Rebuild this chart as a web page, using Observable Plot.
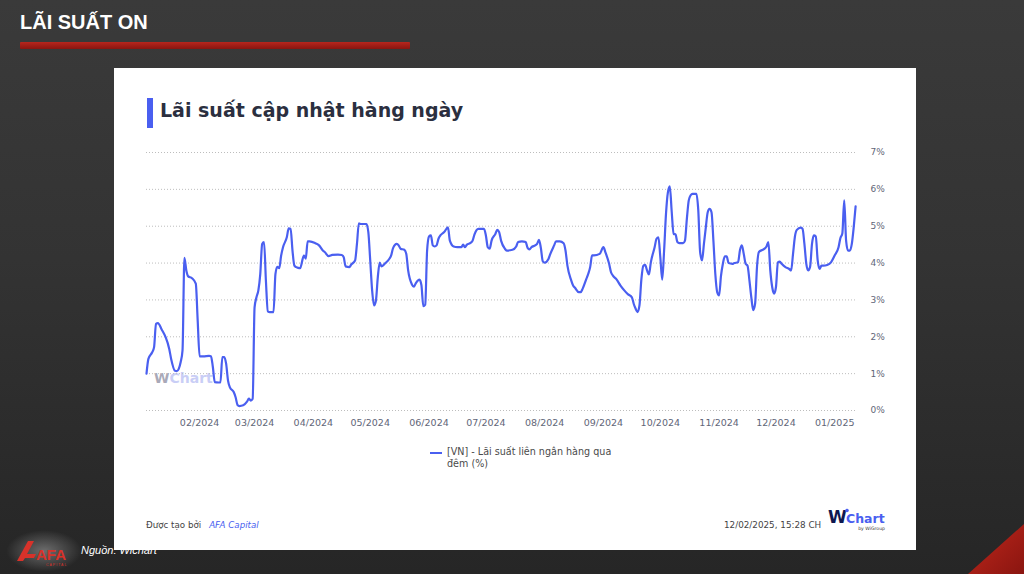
<!DOCTYPE html>
<html><head><meta charset="utf-8">
<script src="https://cdn.jsdelivr.net/npm/d3@7"></script>
<script src="https://cdn.jsdelivr.net/npm/@observablehq/plot@0.6"></script>
<style>
html,body{margin:0;padding:0;width:1024px;height:574px;overflow:hidden;}
body{position:relative;background:linear-gradient(180deg,#3a3a3a 0%,#333 45%,#262626 100%);font-family:"DejaVu Sans",sans-serif;}
#title{position:absolute;left:20px;top:12px;font:bold 20px/20px "Liberation Sans",sans-serif;color:#fff;}
#redbar{position:absolute;left:20px;top:42px;width:390px;height:7px;background:linear-gradient(180deg,#b8261d,#8a1510);border-radius:1px;}
#src{position:absolute;left:81px;top:543px;font:italic 11px/14px "Liberation Sans",sans-serif;color:#fff;z-index:1;}
#afa{position:absolute;left:6px;top:530px;width:76px;height:42px;background:radial-gradient(ellipse at center,rgba(255,255,255,0.32),rgba(255,255,255,0) 70%);z-index:1;}
#card{position:absolute;left:114px;top:68px;width:802px;height:482px;background:#fff;z-index:2;}
#accent{position:absolute;left:33px;top:30px;width:6px;height:30px;background:#4a5ff0;}
#ctitle{position:absolute;left:46px;top:33px;font:bold 19px/19px "DejaVu Sans",sans-serif;color:#2b2f3f;white-space:nowrap;}
#wm{position:absolute;left:40px;top:302px;font:bold 14px/16px "DejaVu Sans",sans-serif;white-space:nowrap;}
#chart{position:absolute;left:0;top:72px;}
#legend{position:absolute;left:316px;top:378px;font:9.6px/12px "DejaVu Sans",sans-serif;color:#4a4a4a;}
#legend .sw{position:absolute;left:0;top:6px;width:12px;height:2px;background:#4a5ff0;}
#legend .tx{position:absolute;left:17px;top:0;white-space:nowrap;}
#created{position:absolute;left:32px;top:452px;font:8.7px/11px "DejaVu Sans",sans-serif;color:#444;white-space:nowrap;}
#created span{font-style:italic;color:#4a5ff0;margin-left:8px;}
#stamp{position:absolute;left:610px;top:452px;font:8.8px/11px "DejaVu Sans",sans-serif;color:#444;white-space:nowrap;}
#wlogo{position:absolute;left:714px;top:440px;width:80px;height:28px;}
#tri{position:absolute;left:968px;top:524px;width:56px;height:50px;background:linear-gradient(135deg,#c0281c,#8a1510);clip-path:polygon(100% 0,100% 100%,0 100%);}
</style></head>
<body>
<div id="title">LÃI SUẤT ON</div>
<div id="redbar"></div>
<div id="afa">
<svg width="76" height="42" viewBox="0 0 76 42">
<polygon points="11,31 22,11 28,11 21,24 30,24 28,28 19,28 17,31" fill="#d8322a"/>
<text x="30" y="30" font-family="Liberation Sans" font-weight="bold" font-size="15" fill="#d8322a">AFA</text>
<text x="40" y="36" font-family="Liberation Sans" font-size="3.5" fill="#d8322a" letter-spacing="1">CAPITAL</text>
</svg>
</div>
<div id="src">Nguồn: Wichart</div>
<div id="card">
  <div id="accent"></div>
  <div id="ctitle">Lãi suất cập nhật hàng ngày</div>
  <div id="wm"><span style="color:#a9a9b8">W</span><span style="color:#c9cef6">Chart</span></div>
  <div id="chart"></div>
  <div id="legend"><div class="sw"></div><div class="tx">[VN] - Lãi suất liên ngân hàng qua<br>đêm (%)</div></div>
  <div id="created">Được tạo bởi<span>AFA Capital</span></div>
  <div id="stamp">12/02/2025, 15:28 CH</div>
  <div id="wlogo">
    <svg width="80" height="28" viewBox="0 0 80 28">
      <text x="0" y="15" font-family="DejaVu Sans" font-weight="bold" font-size="17" fill="#0f1850">W</text>
      <circle cx="19" cy="2.5" r="1.8" fill="#4a5ff0"/>
      <text x="18" y="15" font-family="DejaVu Sans" font-weight="bold" font-size="12.5" fill="#4a5ff0">Chart</text>
      <text x="57" y="22" text-anchor="end" font-family="DejaVu Sans" font-size="4.6" fill="#333">by WiGroup</text>
    </svg>
  </div>
</div>
<div id="tri"></div>
<script>
const dates = [
"2024-01-04","2024-01-05","2024-01-07","2024-01-08","2024-01-09","2024-01-10","2024-01-12","2024-01-14","2024-01-16","2024-01-17",
"2024-01-19","2024-01-20","2024-01-21","2024-01-22","2024-01-23","2024-01-24","2024-01-25","2024-01-26","2024-01-28","2024-01-30",
"2024-01-31","2024-02-01","2024-02-03","2024-02-06","2024-02-07","2024-02-08","2024-02-09","2024-02-11","2024-02-12","2024-02-13",
"2024-02-14","2024-02-15","2024-02-16","2024-02-17","2024-02-19","2024-02-20","2024-02-21","2024-02-22","2024-02-24","2024-02-26",
"2024-02-27","2024-02-28","2024-02-29","2024-03-01","2024-03-02","2024-03-03","2024-03-04","2024-03-05","2024-03-06","2024-03-07",
"2024-03-08","2024-03-09","2024-03-11","2024-03-12","2024-03-13","2024-03-14","2024-03-15","2024-03-16","2024-03-18","2024-03-19",
"2024-03-20","2024-03-21","2024-03-22","2024-03-23","2024-03-24","2024-03-25","2024-03-27","2024-03-28","2024-03-29","2024-03-30",
"2024-04-02","2024-04-04","2024-04-06","2024-04-07","2024-04-09","2024-04-11","2024-04-14","2024-04-16","2024-04-17","2024-04-18",
"2024-04-20","2024-04-21","2024-04-23","2024-04-24","2024-04-25","2024-04-26","2024-04-29","2024-04-30","2024-05-01","2024-05-02",
"2024-05-03","2024-05-04","2024-05-05","2024-05-06","2024-05-07","2024-05-09","2024-05-11","2024-05-12","2024-05-13","2024-05-15",
"2024-05-16","2024-05-17","2024-05-19","2024-05-20","2024-05-21","2024-05-23","2024-05-24","2024-05-25","2024-05-27","2024-05-28",
"2024-05-29","2024-05-30","2024-05-31","2024-06-01","2024-06-02","2024-06-03","2024-06-04","2024-06-05","2024-06-06","2024-06-07",
"2024-06-09","2024-06-11","2024-06-12","2024-06-14","2024-06-16","2024-06-18","2024-06-19","2024-06-20","2024-06-21","2024-06-23",
"2024-06-24","2024-06-25","2024-06-27","2024-06-30","2024-07-01","2024-07-02","2024-07-03","2024-07-04","2024-07-06","2024-07-07",
"2024-07-08","2024-07-09","2024-07-11","2024-07-12","2024-07-15","2024-07-17","2024-07-18","2024-07-20","2024-07-22","2024-07-23",
"2024-07-24","2024-07-25","2024-07-27","2024-07-28","2024-07-29","2024-07-30","2024-07-31","2024-08-01","2024-08-03","2024-08-04",
"2024-08-06","2024-08-07","2024-08-09","2024-08-11","2024-08-12","2024-08-13","2024-08-15","2024-08-16","2024-08-17","2024-08-19",
"2024-08-20","2024-08-21","2024-08-23","2024-08-24","2024-08-25","2024-08-26","2024-08-27","2024-08-30","2024-09-01","2024-09-02",
"2024-09-04","2024-09-05","2024-09-06","2024-09-08","2024-09-10","2024-09-12","2024-09-14","2024-09-16","2024-09-17","2024-09-18",
"2024-09-19","2024-09-20","2024-09-21","2024-09-22","2024-09-23","2024-09-24","2024-09-25","2024-09-26","2024-09-28","2024-09-29",
"2024-09-30","2024-10-01","2024-10-02","2024-10-03","2024-10-04","2024-10-05","2024-10-06","2024-10-07","2024-10-08","2024-10-09",
"2024-10-10","2024-10-11","2024-10-13","2024-10-14","2024-10-15","2024-10-16","2024-10-17","2024-10-18","2024-10-20","2024-10-21",
"2024-10-22","2024-10-23","2024-10-24","2024-10-25","2024-10-26","2024-10-27","2024-10-28","2024-10-29","2024-10-30","2024-10-31",
"2024-11-01","2024-11-02","2024-11-03","2024-11-04","2024-11-05","2024-11-06","2024-11-08","2024-11-09","2024-11-11","2024-11-12",
"2024-11-13","2024-11-14","2024-11-15","2024-11-16","2024-11-17","2024-11-18","2024-11-19","2024-11-20","2024-11-21","2024-11-22",
"2024-11-24","2024-11-25","2024-11-26","2024-11-27","2024-11-28","2024-11-29","2024-11-30","2024-12-01","2024-12-02","2024-12-03",
"2024-12-04","2024-12-06","2024-12-08","2024-12-09","2024-12-10","2024-12-11","2024-12-12","2024-12-14","2024-12-15","2024-12-16",
"2024-12-17","2024-12-18","2024-12-19","2024-12-20","2024-12-21","2024-12-22","2024-12-23","2024-12-24","2024-12-25","2024-12-26",
"2024-12-28","2024-12-30","2025-01-01","2025-01-03","2025-01-04","2025-01-05","2025-01-06","2025-01-07","2025-01-08","2025-01-09",
"2025-01-10","2025-01-11","2025-01-12"
];
const rates = [
1.00,1.40,1.58,1.72,2.35,2.37,2.20,2.00,1.67,1.40,
1.08,1.07,1.13,1.31,1.63,4.14,3.80,3.64,3.59,3.44,
2.44,1.47,1.47,1.48,1.47,1.18,0.77,0.76,0.76,1.45,
1.45,1.27,0.81,0.63,0.50,0.36,0.15,0.12,0.14,0.24,
0.32,0.27,0.32,2.80,3.07,3.26,3.70,4.52,4.57,3.50,
2.69,2.67,2.67,3.70,3.90,3.86,4.20,4.43,4.70,4.94,
4.93,4.34,3.93,3.89,3.87,3.86,4.20,4.12,4.59,4.59,
4.54,4.48,4.34,4.30,4.19,4.22,4.23,4.22,4.16,3.91,
3.89,3.96,4.07,4.52,5.08,5.06,5.06,4.84,4.07,3.26,
2.85,2.98,3.62,4.01,3.91,4.00,4.11,4.20,4.40,4.52,
4.48,4.39,4.36,4.25,3.80,3.42,3.36,3.45,3.55,3.40,
2.83,2.87,4.34,4.72,4.75,4.48,4.45,4.48,4.66,4.75,
4.84,4.97,4.61,4.45,4.43,4.43,4.50,4.43,4.50,4.55,
4.61,4.78,4.93,4.93,4.75,4.43,4.39,4.61,4.79,4.90,
4.84,4.61,4.39,4.34,4.36,4.45,4.57,4.59,4.57,4.41,
4.37,4.43,4.48,4.52,4.63,4.41,4.05,4.01,4.11,4.25,
4.48,4.59,4.59,4.54,4.34,3.93,3.53,3.39,3.33,3.21,
3.21,3.30,3.57,3.71,3.89,4.21,4.21,4.25,4.43,4.30,
3.98,3.75,3.66,3.55,3.39,3.26,3.15,3.07,2.89,2.76,
2.67,2.85,3.55,3.92,3.95,3.80,3.69,4.02,4.43,4.66,
4.70,4.16,3.55,4.34,5.34,5.92,6.08,5.40,4.79,4.78,
4.57,4.54,4.54,4.61,5.20,5.70,5.84,5.88,5.88,5.45,
4.30,4.07,4.52,4.97,5.38,5.47,5.38,4.61,3.71,3.21,
3.12,3.65,3.98,4.18,4.18,4.00,3.98,4.00,4.02,4.35,
4.48,4.25,3.98,3.93,3.53,3.07,2.72,2.90,3.90,4.30,
4.36,4.39,4.45,4.57,3.80,3.35,3.17,3.35,4.02,4.04,
3.98,3.89,3.84,3.80,4.25,4.72,4.90,4.96,4.93,4.52,
3.98,3.80,3.90,4.52,4.75,4.72,4.07,3.84,3.93,3.93,
3.95,4.02,4.21,4.43,4.68,4.80,5.70,4.60,4.34,4.34,
4.52,4.97,5.54
];
const monthTicks = ["2024-02-01","2024-03-01","2024-04-01","2024-05-01","2024-06-01","2024-07-01","2024-08-01","2024-09-01","2024-10-01","2024-11-01","2024-12-01","2025-01-01"];
const yTicks = [0,1,2,3,4,5,6,7];
const xDomain = ["2024-01-04","2025-01-13"];

const rows = dates.map((d,i)=>({date:new Date(d), rate:rates[i]}));

const chart = Plot.plot({
  width: 802, height: 300,
  marginTop: 12, marginBottom: 30, marginLeft: 32, marginRight: 59,
  style: {fontFamily:"DejaVu Sans", color:"#5f6678", background:"transparent", overflow:"visible"},
  x: {type:"utc", domain: xDomain.map(d=>new Date(d))},
  y: {domain:[0,7]},
  marks: [
    Plot.gridY(yTicks, {stroke:"#bdbdbd", strokeOpacity:1, strokeDasharray:"1,2"}),
    Plot.axisX(monthTicks.map(d=>new Date(d)), {tickSize:0, tickPadding:9, tickFormat:d3.utcFormat("%m/%Y"), fontSize:9.5, label:null}),
    Plot.axisY(yTicks, {anchor:"right", tickSize:0, tickPadding:13, tickFormat:d=>d+"%", fontSize:9, label:null}),
    Plot.line(rows, {x:"date", y:"rate", curve:"monotone-x", stroke:"#4a5ff0", strokeWidth:2.2})
  ]
});
document.getElementById("chart").appendChild(chart);
</script>
</body></html>
